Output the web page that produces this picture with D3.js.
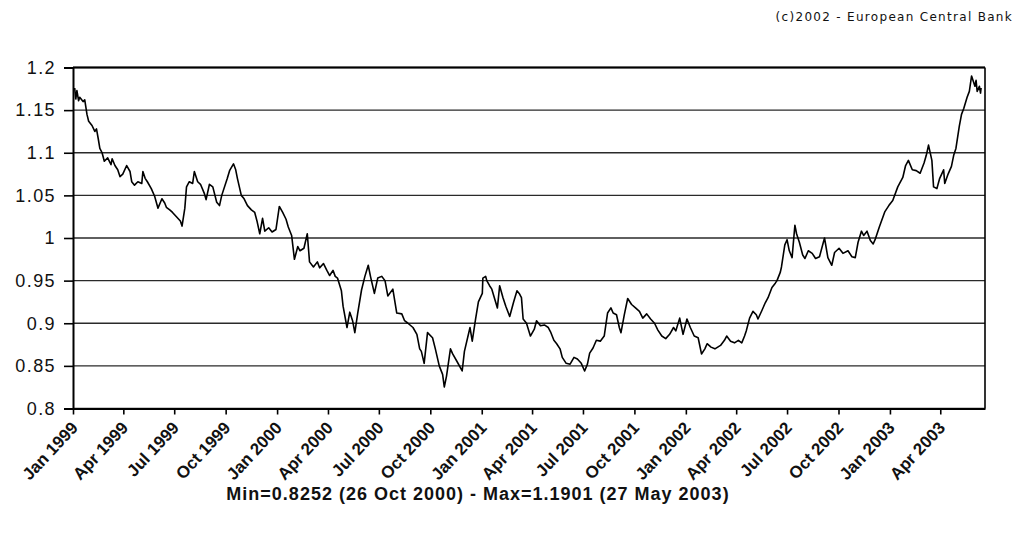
<!DOCTYPE html>
<html>
<head>
<meta charset="utf-8">
<script src="https://cdn.jsdelivr.net/npm/d3@7"></script>
<style>
	body { margin: 0; background: #fff; }
	svg { display: block; }
</style>
</head>
<body>
<svg id="chart"></svg>
<script>
// USD per EUR
var dates = [
	"1999-01-04","1999-01-06","1999-01-08","1999-01-11","1999-01-13","1999-01-19","1999-01-22","1999-01-26","1999-01-29",
	"1999-02-04","1999-02-09","1999-02-12","1999-02-15","1999-02-18","1999-02-22","1999-02-26","1999-03-04","1999-03-10",
	"1999-03-12","1999-03-17","1999-03-22","1999-03-26","1999-03-31","1999-04-07","1999-04-13","1999-04-16","1999-04-21",
	"1999-04-27","1999-05-04","1999-05-06","1999-05-10","1999-05-14","1999-05-21","1999-05-27","1999-06-02","1999-06-09",
	"1999-06-14","1999-06-17","1999-06-23","1999-06-28","1999-07-05","1999-07-12","1999-07-15","1999-07-20","1999-07-23",
	"1999-07-28","1999-08-03","1999-08-06","1999-08-12","1999-08-17","1999-08-24","1999-08-27","1999-09-02","1999-09-08",
	"1999-09-15","1999-09-20","1999-09-24","1999-10-04","1999-10-08","1999-10-15","1999-10-19","1999-10-22","1999-10-29",
	"1999-11-03","1999-11-09","1999-11-16","1999-11-22","1999-11-26","1999-12-01","1999-12-06","1999-12-10","1999-12-17",
	"1999-12-23","1999-12-30","2000-01-05","2000-01-11","2000-01-17","2000-01-21","2000-01-27","2000-02-01","2000-02-07",
	"2000-02-11","2000-02-18","2000-02-24","2000-02-28","2000-03-06","2000-03-13","2000-03-17","2000-03-24","2000-03-30",
	"2000-04-04","2000-04-10","2000-04-14","2000-04-18","2000-04-25","2000-04-28","2000-05-05","2000-05-10","2000-05-15",
	"2000-05-19","2000-05-24","2000-05-31","2000-06-06","2000-06-12","2000-06-16","2000-06-23","2000-06-29","2000-07-06",
	"2000-07-12","2000-07-17","2000-07-26","2000-08-02","2000-08-11","2000-08-16","2000-08-22","2000-08-31","2000-09-07",
	"2000-09-12","2000-09-15","2000-09-20","2000-09-26","2000-10-05","2000-10-10","2000-10-17","2000-10-23","2000-10-26",
	"2000-10-30","2000-11-06","2000-11-10","2000-11-17","2000-11-27","2000-12-01","2000-12-11","2000-12-15","2000-12-21",
	"2000-12-26","2001-01-02","2001-01-03","2001-01-08","2001-01-10","2001-01-15","2001-01-19","2001-01-29","2001-02-02",
	"2001-02-08","2001-02-13","2001-02-20","2001-02-27","2001-03-05","2001-03-09","2001-03-13","2001-03-16","2001-03-22",
	"2001-03-29","2001-04-05","2001-04-09","2001-04-16","2001-04-23","2001-04-30","2001-05-04","2001-05-10","2001-05-15",
	"2001-05-21","2001-05-25","2001-06-01","2001-06-08","2001-06-15","2001-06-21","2001-06-28","2001-07-04","2001-07-09",
	"2001-07-13","2001-07-19","2001-07-25","2001-08-01","2001-08-08","2001-08-14","2001-08-20","2001-08-24","2001-08-30",
	"2001-09-04","2001-09-07","2001-09-13","2001-09-19","2001-09-26","2001-10-03","2001-10-10","2001-10-16","2001-10-23",
	"2001-10-30","2001-11-06","2001-11-12","2001-11-19","2001-11-26","2001-12-03","2001-12-10","2001-12-14","2001-12-21",
	"2001-12-27","2002-01-03","2002-01-09","2002-01-16","2002-01-23","2002-01-29","2002-02-04","2002-02-08","2002-02-15",
	"2002-02-22","2002-03-04","2002-03-11","2002-03-15","2002-03-22","2002-03-29","2002-04-05","2002-04-11","2002-04-16",
	"2002-04-19","2002-04-25","2002-05-01","2002-05-07","2002-05-10","2002-05-17","2002-05-23","2002-05-28","2002-06-04",
	"2002-06-10","2002-06-13","2002-06-19","2002-06-21","2002-06-27","2002-07-01","2002-07-05","2002-07-10","2002-07-15",
	"2002-07-18","2002-07-23","2002-07-29","2002-08-02","2002-08-08","2002-08-15","2002-08-21","2002-08-28","2002-09-06",
	"2002-09-12","2002-09-19","2002-09-24","2002-10-02","2002-10-09","2002-10-18","2002-10-25","2002-10-31","2002-11-05",
	"2002-11-11","2002-11-15","2002-11-21","2002-11-27","2002-12-02","2002-12-06","2002-12-13","2002-12-23","2002-12-30",
	"2003-01-06","2003-01-15","2003-01-24","2003-01-29","2003-02-03","2003-02-10","2003-02-17","2003-02-24","2003-03-03",
	"2003-03-07","2003-03-11","2003-03-17","2003-03-20","2003-03-26","2003-03-31","2003-04-07","2003-04-09","2003-04-15",
	"2003-04-21","2003-04-25","2003-04-29","2003-05-05","2003-05-09","2003-05-13","2003-05-19","2003-05-23","2003-05-27",
	"2003-06-02","2003-06-04","2003-06-06","2003-06-10","2003-06-12","2003-06-13"
];
var rates = [
	1.176,1.163,1.173,1.161,1.165,1.160,1.162,1.145,1.137,
	1.132,1.125,1.128,1.117,1.105,1.100,1.090,1.094,1.086,
	1.093,1.085,1.080,1.072,1.075,1.085,1.078,1.066,1.062,
	1.066,1.064,1.078,1.070,1.066,1.058,1.049,1.035,1.046,
	1.041,1.036,1.033,1.030,1.025,1.020,1.014,1.035,1.060,
	1.066,1.064,1.078,1.066,1.063,1.052,1.045,1.063,1.060,
	1.042,1.038,1.050,1.070,1.079,1.087,1.080,1.070,1.050,
	1.046,1.038,1.033,1.030,1.020,1.005,1.023,1.008,1.012,
	1.007,1.010,1.037,1.030,1.022,1.013,1.003,0.975,0.990,
	0.985,0.988,1.005,0.972,0.966,0.972,0.965,0.970,0.962,
	0.956,0.962,0.955,0.953,0.938,0.920,0.895,0.913,0.903,
	0.889,0.911,0.939,0.955,0.968,0.955,0.935,0.953,0.955,
	0.950,0.932,0.940,0.912,0.911,0.903,0.900,0.895,0.887,
	0.870,0.867,0.853,0.889,0.883,0.870,0.850,0.840,0.8252,
	0.838,0.870,0.864,0.856,0.844,0.867,0.895,0.879,0.905,
	0.925,0.935,0.953,0.955,0.950,0.944,0.940,0.918,0.944,
	0.930,0.920,0.908,0.925,0.938,0.935,0.930,0.905,0.900,
	0.885,0.893,0.903,0.897,0.898,0.895,0.890,0.880,0.876,
	0.870,0.860,0.853,0.852,0.860,0.858,0.853,0.844,0.852,
	0.865,0.871,0.880,0.879,0.885,0.912,0.918,0.912,0.910,
	0.895,0.889,0.910,0.929,0.922,0.918,0.914,0.906,0.911,
	0.905,0.900,0.892,0.885,0.882,0.887,0.895,0.891,0.906,
	0.887,0.905,0.895,0.885,0.883,0.864,0.870,0.876,0.872,
	0.870,0.874,0.880,0.885,0.879,0.877,0.880,0.877,0.885,
	0.891,0.906,0.914,0.910,0.905,0.915,0.924,0.930,0.942,
	0.947,0.950,0.960,0.966,0.992,0.998,0.985,0.977,1.015,
	1.005,0.995,0.980,0.976,0.985,0.982,0.976,0.978,1.000,
	0.977,0.968,0.983,0.988,0.982,0.985,0.978,0.977,0.995,
	1.008,1.003,1.008,0.997,0.993,0.999,1.013,1.031,1.038,
	1.044,1.060,1.071,1.085,1.091,1.080,1.079,1.076,1.088,
	1.097,1.109,1.091,1.060,1.058,1.070,1.080,1.064,1.075,
	1.084,1.097,1.105,1.131,1.145,1.152,1.165,1.172,1.1901,
	1.178,1.185,1.172,1.178,1.170,1.176
];
var yTicks = [0.8, 0.85, 0.9, 0.95, 1, 1.05, 1.1, 1.15, 1.2];
var xTickLabels = [
	"Jan 1999","Apr 1999","Jul 1999","Oct 1999","Jan 2000","Apr 2000","Jul 2000","Oct 2000","Jan 2001",
	"Apr 2001","Jul 2001","Oct 2001","Jan 2002","Apr 2002","Jul 2002","Oct 2002","Jan 2003","Apr 2003"
];
var credit = "(c)2002 - European Central Bank";
var footnote = "Min=0.8252 (26 Oct 2000) - Max=1.1901 (27 May 2003)";

var W = 1016, H = 535;
var margin = { left: 73, right: 31, top: 67, bottom: 127 };

var svg = d3.select("#chart")
	.attr("width", W)
	.attr("height", H);

var parseDay = d3.timeParse("%Y-%m-%d");
var parseMonth = d3.timeParse("%b %Y");

var data = dates.map(function(d, i) {
	return { date: parseDay(d), value: rates[i] };
});

var x = d3.scaleTime()
	.domain([parseDay("1999-01-01"), parseDay("2003-06-20")])
	.range([margin.left, W - margin.right]);

var y = d3.scaleLinear()
	.domain([0.8, 1.2])
	.range([H - margin.bottom + 0.5, margin.top + 0.5]);

// horizontal grid
svg.append("g")
	.selectAll("line")
	.data(yTicks)
	.enter().append("line")
	.attr("x1", margin.left)
	.attr("x2", W - margin.right)
	.attr("y1", function(d) { return y(d); })
	.attr("y2", function(d) { return y(d); })
	.attr("stroke", "#2a2a2a")
	.attr("stroke-width", 1.3);

// frame
svg.append("line")
	.attr("x1", margin.left).attr("x2", W - margin.right)
	.attr("y1", y(1.2)).attr("y2", y(1.2))
	.attr("stroke", "#000").attr("stroke-width", 2.2);
svg.append("line")
	.attr("x1", W - margin.right).attr("x2", W - margin.right)
	.attr("y1", y(1.2)).attr("y2", y(0.8))
	.attr("stroke", "#000").attr("stroke-width", 1.6);

// y axis
var yAxis = d3.axisLeft(y)
	.tickValues(yTicks)
	.tickFormat(d3.format("~g"))
	.tickSize(9)
	.tickPadding(8);

var gy = svg.append("g")
	.attr("transform", "translate(" + margin.left + ",0)")
	.call(yAxis);
gy.select(".domain").attr("stroke", "#000").attr("stroke-width", 2);
gy.selectAll(".tick line").attr("stroke", "#000").attr("stroke-width", 1.6);
gy.selectAll(".tick text")
	.attr("fill", "#111")
	.style("font-family", "'Liberation Sans', Arial, sans-serif")
	.style("font-size", "18px")
	.style("letter-spacing", "1.4px");

// x axis
var xAxis = d3.axisBottom(x)
	.tickValues(xTickLabels.map(function(s) { return parseMonth(s); }))
	.tickFormat(d3.timeFormat("%b %Y"))
	.tickSize(6)
	.tickSizeOuter(0);

var gx = svg.append("g")
	.attr("transform", "translate(0," + y(0.8) + ")")
	.call(xAxis);
gx.select(".domain").attr("stroke", "#000").attr("stroke-width", 2.2);
gx.selectAll(".tick line").attr("stroke", "#000").attr("stroke-width", 1.6);
gx.selectAll(".tick text")
	.attr("fill", "#111")
	.attr("text-anchor", "end")
	.attr("x", 0)
	.attr("y", 0)
	.attr("dy", "0.35em")
	.attr("transform", "translate(1,16) rotate(-47)")
	.style("font-family", "'Liberation Sans', Arial, sans-serif")
	.style("font-size", "17px")
	.style("font-weight", "bold");

// the rate line
var line = d3.line()
	.x(function(d) { return x(d.date); })
	.y(function(d) { return y(d.value); });

svg.append("path")
	.datum(data)
	.attr("d", line)
	.attr("fill", "none")
	.attr("stroke", "#000")
	.attr("stroke-width", 1.6)
	.attr("stroke-linejoin", "round");

// texts
svg.append("text")
	.attr("x", 1013)
	.attr("y", 21)
	.attr("text-anchor", "end")
	.attr("font-family", "'DejaVu Sans', sans-serif")
	.attr("font-size", "12px")
	.style("letter-spacing", "1.3px")
	.attr("fill", "#111")
	.text(credit);

svg.append("text")
	.attr("x", 478)
	.attr("y", 500)
	.attr("text-anchor", "middle")
	.attr("font-family", "'Liberation Sans', Arial, sans-serif")
	.attr("font-size", "18px")
	.attr("font-weight", "bold")
	.style("letter-spacing", "1px")
	.attr("fill", "#111")
	.text(footnote);
</script>
</body>
</html>
